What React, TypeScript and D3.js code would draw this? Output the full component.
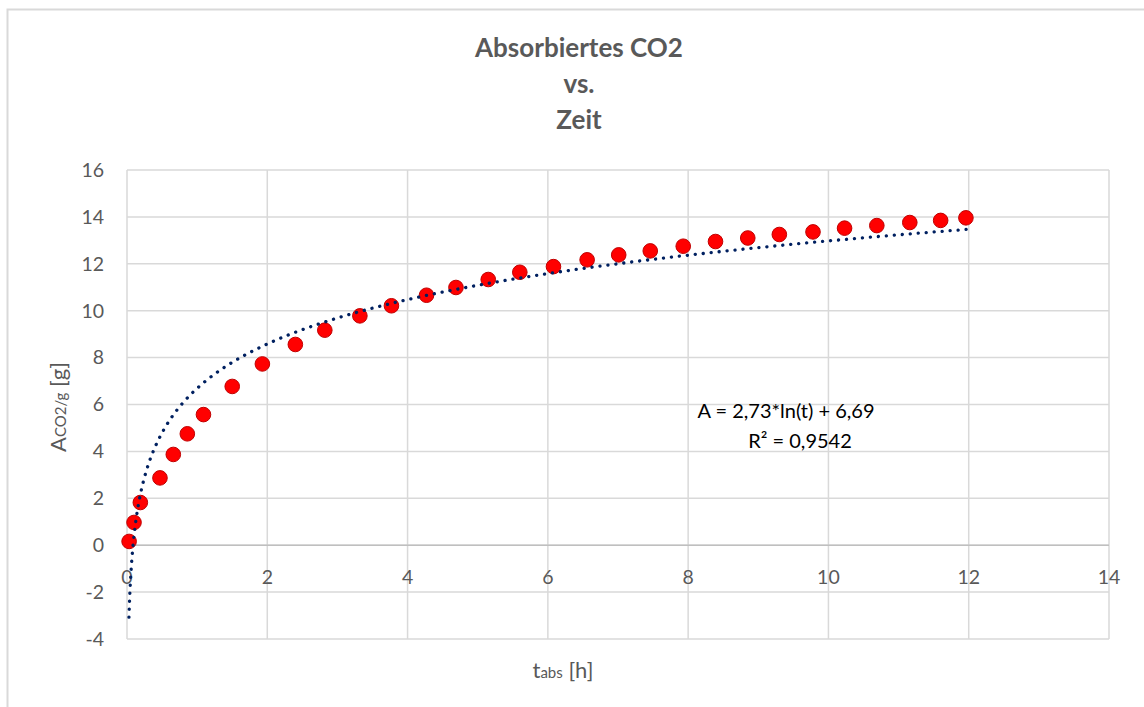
import React from "react";
import * as d3 from "d3";

const timeH = [0.03, 0.10, 0.19, 0.47, 0.66, 0.86, 1.09, 1.50, 1.93, 2.40, 2.82, 3.32, 3.77, 4.27, 4.69, 5.15, 5.60, 6.08, 6.56, 7.01, 7.46, 7.93, 8.39, 8.85, 9.30, 9.78, 10.23, 10.69, 11.16, 11.60, 11.96];
const absorbed = [0.16, 0.97, 1.82, 2.87, 3.87, 4.75, 5.57, 6.77, 7.73, 8.56, 9.17, 9.78, 10.21, 10.66, 10.99, 11.33, 11.64, 11.88, 12.17, 12.38, 12.55, 12.75, 12.95, 13.10, 13.25, 13.36, 13.52, 13.63, 13.76, 13.85, 13.96];
const xTicks = [0, 2, 4, 6, 8, 10, 12, 14];
const yTicks = [-4, -2, 0, 2, 4, 6, 8, 10, 12, 14, 16];
const trendA = 2.73;
const trendB = 6.69;
const trendStart = 0.028;
const trendEnd = 12;
const titleLines = ["Absorbiertes CO2", "vs.", "Zeit"];

const W = 1144;
const H = 707;
const FONT = "Lato, 'Open Sans', sans-serif";
const GREY = "#595959";

export default function App() {
  const x = d3.scaleLinear().domain([0, 14]).range([127, 1109]);
  const y = d3.scaleLinear().domain([-4, 16]).range([639, 170]);

  const trendPts: [number, number][] = d3
    .range(0, 401)
    .map((i) => {
      const t = trendStart * Math.pow(trendEnd / trendStart, i / 400);
      return [t, trendA * Math.log(t) + trendB];
    });
  const line = d3
    .line<[number, number]>()
    .x((d) => x(d[0]))
    .y((d) => y(d[1]));

  return (
    <svg
      width={W}
      height={H}
      style={{ position: "absolute", left: 0, top: 0, background: "#fff" }}
      fontFamily={FONT}
    >
      <rect x={7.5} y={9.5} width={1200} height={800} fill="#fff" stroke="#d9d9d9" strokeWidth={2} />
      {/* grid */}
      {yTicks.map((v) => (
        <line key={"gy" + v} x1={x(0)} x2={x(14)} y1={y(v)} y2={y(v)} stroke="#d9d9d9" strokeWidth={1.5} />
      ))}
      {xTicks.map((v) => (
        <line key={"gx" + v} x1={x(v)} x2={x(v)} y1={y(16)} y2={y(-4)} stroke="#d9d9d9" strokeWidth={1.5} />
      ))}
      <line x1={x(0)} x2={x(14)} y1={y(0)} y2={y(0)} stroke="#bfbfbf" strokeWidth={1.5} />
      {/* y tick labels */}
      {yTicks.map((v) => (
        <text key={"ty" + v} x={104} y={y(v)} dy="0.35em" textAnchor="end" fontSize={19.5} fill={GREY}>
          {v}
        </text>
      ))}
      {/* x tick labels */}
      {xTicks.map((v) => (
        <text key={"tx" + v} x={x(v)} y={y(0) + 32} dy="0.35em" textAnchor="middle" fontSize={19.5} fill={GREY}>
          {v}
        </text>
      ))}
      {/* markers */}
      {timeH.map((t, i) => (
        <circle key={"p" + i} cx={x(t)} cy={y(absorbed[i])} r={7.3} fill="#ff0000" stroke="#c00000" strokeWidth={1} />
      ))}
      {/* trendline */}
      <path
        d={line(trendPts) || ""}
        fill="none"
        stroke="#002060"
        strokeWidth={3.3}
        strokeLinecap="round"
        strokeDasharray="0.1 7.9"
      />
      {/* equation */}
      <text x={786} y={411} dy="0.35em" textAnchor="middle" fontSize={20} fill="#000">
        A = 2,73*ln(t) + 6,69
      </text>
      <text x={800} y={441} dy="0.35em" textAnchor="middle" fontSize={20} fill="#000">
        R² = 0,9542
      </text>
      {/* title */}
      {titleLines.map((s, i) => (
        <text key={"t" + i} x={579} y={48 + i * 36} dy="0.35em" textAnchor="middle" fontSize={26} fontWeight="bold" fill={GREY}>
          {s}
        </text>
      ))}
      {/* axis titles */}
      <text x={563} y={670} dy="0.35em" textAnchor="middle" fill={GREY} fontSize={22}>
        t<tspan fontSize={15}>abs</tspan> [h]
      </text>
      <text
        transform={`translate(58,407) rotate(-90)`}
        dy="0.35em"
        textAnchor="middle"
        fill={GREY}
        fontSize={22}
      >
        A<tspan fontSize={15}>CO2/g</tspan> [g]
      </text>
    </svg>
  );
}
